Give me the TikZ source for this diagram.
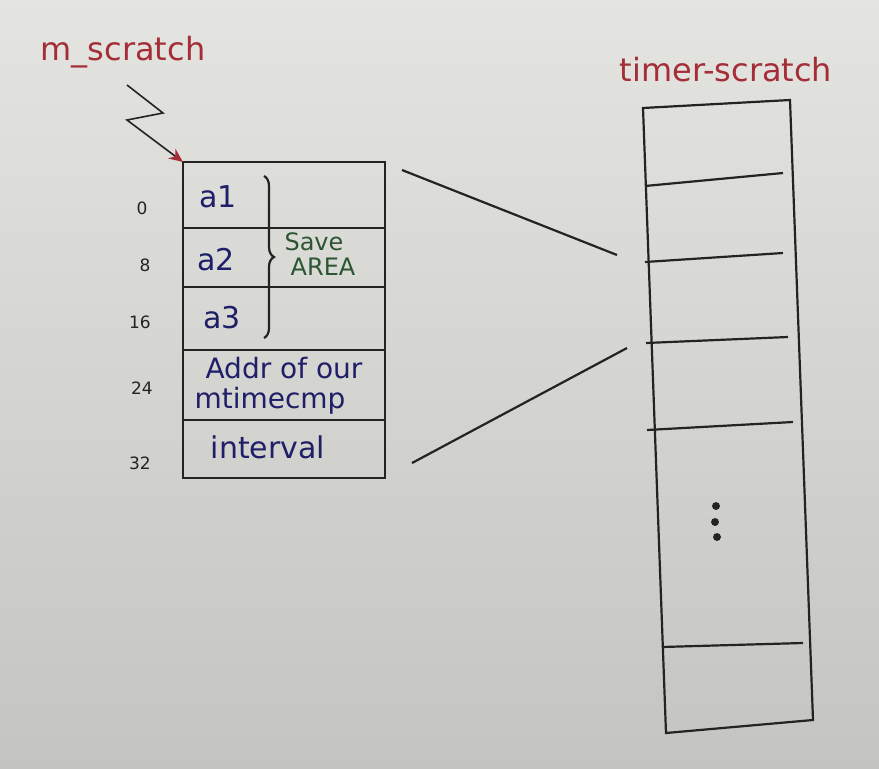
\documentclass[tikz,border=0pt]{standalone}
\usepackage{fontspec}
\setmainfont{DejaVu Sans}
\usetikzlibrary{decorations.pathreplacing,arrows.meta}
\definecolor{paper}{RGB}{228,228,224}
\definecolor{paperdark}{RGB}{196,196,193}
\definecolor{ink}{RGB}{35,35,35}
\definecolor{redink}{RGB}{165,45,55}
\definecolor{blueink}{RGB}{30,30,105}
\definecolor{greenink}{RGB}{45,85,50}

\begin{document}
\begin{tikzpicture}[x=1pt,y=-1pt]
	\tikzstyle{every node} = [inner sep=0pt]
	\tikzstyle{cell} = [draw=ink, line width=2.2pt, outer sep=0pt, minimum width=202pt, anchor=north west]
	\tikzstyle{entry} = [blueink, font=\fontsize{30}{32}\selectfont]
	\tikzstyle{offset} = [ink, font=\fontsize{17}{18}\selectfont]
	\tikzstyle{note} = [greenink, font=\fontsize{24}{26}\selectfont]
	\tikzstyle{title} = [redink, font=\fontsize{32}{34}\selectfont]
	\tikzstyle{pen} = [ink, line width=2.2pt]
	\tikzstyle{dot} = [circle, fill=ink, inner sep=2.8pt]
	\shade[top color=paper, bottom color=paperdark] (0,0) rectangle (879,769);
	\useasboundingbox (0,0) rectangle (879,769);
	\node[title] (mlabel) at (123,52) {m\_scratch};
	\node[title] (tlabel) at (726,70) {timer-scratch};
	\node[cell, minimum height=66pt] (c0) at (183,162) {};
	\node[cell, minimum height=59pt] (c1) at (c0.south west) {};
	\node[cell, minimum height=63pt] (c2) at (c1.south west) {};
	\node[cell, minimum height=70pt] (c3) at (c2.south west) {};
	\node[cell, minimum height=58pt] (c4) at (c3.south west) {};
	\node[entry] (a1) at (218,197) {a1};
	\node[entry] (a2) at (216,260) {a2};
	\node[entry] (a3) at (222,318) {a3};
	\node[entry, font=\fontsize{28}{30}\selectfont] (addr) at (284,368) {Addr of our};
	\node[entry, font=\fontsize{28}{30}\selectfont] (cmp) at (270,401) {mtimecmp};
	\node[entry] (ival) at (268,447) {interval};
	\node[offset] (o0) at (142,208) {0};
	\node[offset] (o8) at (145,265) {8};
	\node[offset] (o16) at (140,322) {16};
	\node[offset] (o24) at (142,388) {24};
	\node[offset] (o32) at (140,463) {32};
	\draw[pen, decorate, decoration={brace, amplitude=10pt}] (264,176) -- (264,338);
	\node[note] (save) at (314,242) {Save};
	\node[note] (area) at (323,267) {AREA};
	\coordinate (z0) at (127,85);
	\coordinate (z1) at (163,113);
	\coordinate (z2) at (127,120);
	\draw[pen, line width=1.6pt, -{Stealth[redink, length=14pt, width=12pt]}] (z0) -- (z1) -- (z2) -- (c0.north west);
	\coordinate (t0) at (643,108);
	\coordinate (t1) at (790,100);
	\coordinate (t2) at (813,720);
	\coordinate (t3) at (666,733);
	\draw[pen] (t0) -- (t1) -- (t2) -- (t3) -- cycle;
	\foreach \xa/\ya/\xb/\yb in {645/186/783/173, 645/262/783/253, 646/343/788/337, 647/430/793/422, 662/647/803/643}
		\draw[pen] (\xa,\ya) -- (\xb,\yb);
	\node[dot] (d1) at (716,506) {};
	\node[dot] (d2) at (715,522) {};
	\node[dot] (d3) at (717,537) {};
	\coordinate (l0) at (402,170);
	\coordinate (r0) at (617,255);
	\coordinate (l1) at (412,463);
	\coordinate (r1) at (627,348);
	\draw[pen] (l0) -- (r0);
	\draw[pen] (l1) -- (r1);
\end{tikzpicture}
\end{document}
